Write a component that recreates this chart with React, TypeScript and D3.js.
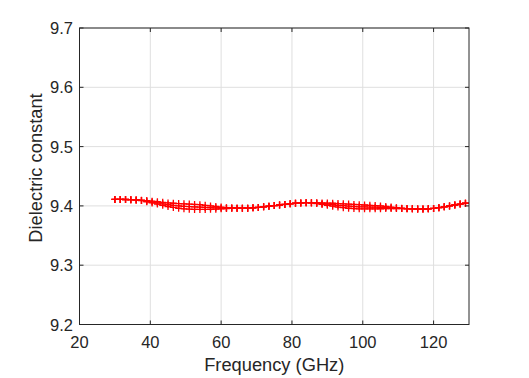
import React from "react";
import * as d3 from "d3";

const freqs = [30, 31.5, 33, 34.5, 36, 37.5, 39, 40.5, 42, 43.5, 45, 46.5, 48, 49.5, 51, 52.5, 54, 55.5, 57, 58.5, 60, 61.5, 63, 64.5, 66, 67.5, 69, 70.5, 72, 73.5, 75, 76.5, 78, 79.5, 81, 82.5, 84, 85.5, 87, 88.5, 90, 91.5, 93, 94.5, 96, 97.5, 99, 100.5, 102, 103.5, 105, 106.5, 108, 109.5, 111, 112.5, 114, 115.5, 117, 118.5, 120, 121.5, 123, 124.5, 126, 127.5, 129];

const upper = [9.411, 9.411, 9.4108, 9.4105, 9.41, 9.4095, 9.409, 9.408, 9.407, 9.406, 9.405, 9.4045, 9.404, 9.4035, 9.403, 9.4025, 9.402, 9.401, 9.4, 9.399, 9.398, 9.397, 9.3965, 9.3962, 9.396, 9.3962, 9.3968, 9.3975, 9.3985, 9.3995, 9.4005, 9.4015, 9.4025, 9.4035, 9.4045, 9.405, 9.4055, 9.4055, 9.4055, 9.405, 9.4048, 9.4045, 9.404, 9.4035, 9.403, 9.4025, 9.402, 9.4015, 9.401, 9.4005, 9.4, 9.399, 9.398, 9.397, 9.396, 9.3955, 9.395, 9.3948, 9.3948, 9.395, 9.3958, 9.397, 9.3985, 9.4, 9.4015, 9.403, 9.4045];

const middle = [9.411, 9.411, 9.4108, 9.4105, 9.41, 9.4093, 9.408, 9.4065, 9.405, 9.4035, 9.402, 9.401, 9.4, 9.3993, 9.3988, 9.3983, 9.398, 9.3975, 9.3971, 9.3968, 9.3965, 9.3963, 9.3963, 9.3962, 9.396, 9.3962, 9.3968, 9.3975, 9.3985, 9.3995, 9.4005, 9.4015, 9.4025, 9.4035, 9.4045, 9.405, 9.4055, 9.4053, 9.4048, 9.4038, 9.4029, 9.402, 9.401, 9.4003, 9.3995, 9.399, 9.3985, 9.3983, 9.398, 9.3978, 9.3976, 9.3973, 9.3968, 9.3963, 9.3958, 9.3954, 9.395, 9.3948, 9.3948, 9.395, 9.3958, 9.397, 9.3985, 9.4, 9.4015, 9.403, 9.4045];

const lower = [9.411, 9.411, 9.4108, 9.4105, 9.41, 9.409, 9.407, 9.405, 9.403, 9.401, 9.399, 9.3975, 9.396, 9.395, 9.3945, 9.394, 9.394, 9.394, 9.3942, 9.3945, 9.395, 9.3955, 9.396, 9.3962, 9.396, 9.3962, 9.3968, 9.3975, 9.3985, 9.3995, 9.4005, 9.4015, 9.4025, 9.4035, 9.4045, 9.405, 9.4055, 9.405, 9.404, 9.4025, 9.401, 9.3995, 9.398, 9.397, 9.396, 9.3955, 9.395, 9.395, 9.395, 9.395, 9.3952, 9.3955, 9.3955, 9.3955, 9.3955, 9.3952, 9.395, 9.3948, 9.3948, 9.395, 9.3958, 9.397, 9.3985, 9.4, 9.4015, 9.403, 9.4045];

const xTicks = [20, 40, 60, 80, 100, 120];
const yTicks = [9.2, 9.3, 9.4, 9.5, 9.6, 9.7];
const xLabel = "Frequency (GHz)";
const yLabel = "Dielectric constant";

const W = 529;
const H = 378;
const L = 79.5, R = 469, T = 28, B = 324.5;
const FONT = "'Liberation Sans', Arial, sans-serif";
const AX = "#262626";

export default function App() {
  const x = d3.scaleLinear().domain([20, 130]).range([L, R]);
  const y = d3.scaleLinear().domain([9.2, 9.7]).range([B, T]);
  const series = [upper, middle, lower];
  const line = d3.line<number>().x((_, i) => x(freqs[i])).y((v) => y(v));
  const tk = 4;
  const m = 3.5;
  return (
    <svg width={W} height={H} style={{ position: "absolute", left: 0, top: 0, background: "#fff" }}>
      <rect x={0} y={0} width={W} height={H} fill="#fff" />
      {xTicks.map((t) => (
        <line key={"gx" + t} x1={x(t)} x2={x(t)} y1={T} y2={B} stroke="#dfdfdf" strokeWidth={1} />
      ))}
      {yTicks.map((t) => (
        <line key={"gy" + t} x1={L} x2={R} y1={y(t)} y2={y(t)} stroke="#dfdfdf" strokeWidth={1} />
      ))}
      {series.map((s, si) => (
        <g key={"s" + si}>
          <path d={line(s) || ""} fill="none" stroke="#ff0000" strokeWidth={0.8} />
          {s.map((v, i) => {
            const cx = x(freqs[i]);
            const cy = y(v);
            return (
              <path
                key={i}
                d={`M${cx - m},${cy}H${cx + m}M${cx},${cy - m}V${cy + m}`}
                stroke="#ff0000"
                strokeWidth={1.3}
                fill="none"
              />
            );
          })}
        </g>
      ))}
      <rect x={L} y={T} width={R - L} height={B - T} fill="none" stroke={AX} strokeWidth={1} />
      {xTicks.map((t) => (
        <g key={"tx" + t}>
          <line x1={x(t)} x2={x(t)} y1={B} y2={B - tk} stroke={AX} />
          <line x1={x(t)} x2={x(t)} y1={T} y2={T + tk} stroke={AX} />
          <text x={x(t)} y={348} textAnchor="middle" fontFamily={FONT} fontSize={16.5} fill={AX}>
            {t}
          </text>
        </g>
      ))}
      {yTicks.map((t) => (
        <g key={"ty" + t}>
          <line x1={L} x2={L + tk} y1={y(t)} y2={y(t)} stroke={AX} />
          <line x1={R} x2={R - tk} y1={y(t)} y2={y(t)} stroke={AX} />
          <text x={73} y={y(t) + 6} textAnchor="end" fontFamily={FONT} fontSize={16.5} fill={AX}>
            {t.toFixed(1)}
          </text>
        </g>
      ))}
      <text x={(L + R) / 2} y={371} textAnchor="middle" fontFamily={FONT} fontSize={18.3} fill={AX}>
        {xLabel}
      </text>
      <text
        transform={`translate(41.5,168) rotate(-90)`}
        textAnchor="middle"
        fontFamily={FONT}
        fontSize={18.3}
        fill={AX}
      >
        {yLabel}
      </text>
    </svg>
  );
}
